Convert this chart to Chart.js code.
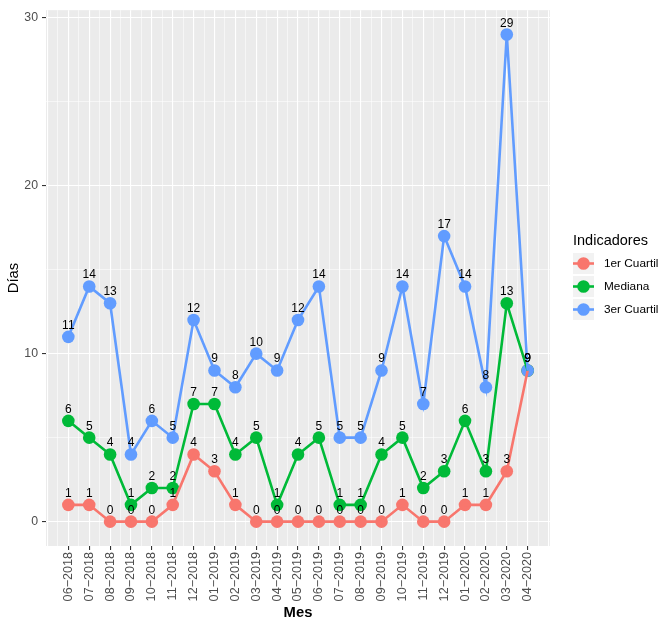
<!DOCTYPE html>
<html>
<head>
<meta charset="utf-8">
<script src="https://cdn.jsdelivr.net/npm/chart.js@4.4.1/dist/chart.umd.min.js"></script>
<style>
  html, body { margin: 0; padding: 0; background: #fff; }
</style>
</head>
<body>
<canvas id="grafico" width="659" height="624"></canvas>
<script>
const meses = ["06−2018", "07−2018", "08−2018", "09−2018", "10−2018", "11−2018",
  "12−2018", "01−2019", "02−2019", "03−2019", "04−2019", "05−2019", "06−2019",
  "07−2019", "08−2019", "09−2019", "10−2019", "11−2019", "12−2019", "01−2020",
  "02−2020", "03−2020", "04−2020"];
const primerCuartil = [1, 1, 0, 0, 0, 1, 4, 3, 1, 0, 0, 0, 0, 0, 0, 0, 1, 0, 0, 1, 1, 3, 9];
const mediana = [6, 5, 4, 1, 2, 2, 7, 7, 4, 5, 1, 4, 5, 1, 1, 4, 5, 2, 3, 6, 3, 13, 9];
const tercerCuartil = [11, 14, 13, 4, 6, 5, 12, 9, 8, 10, 9, 12, 14, 5, 5, 9, 14, 7, 17, 14, 8, 29, 9];
const nombres = ["1er Cuartil", "Mediana", "3er Cuartil"];
const colores = ["#F8766D", "#00BA38", "#619CFF"];
const yTicks = [0, 10, 20, 30];

const FUENTE = "'Liberation Sans', Arial, sans-serif";
Chart.defaults.font.family = FUENTE;

const valores = [primerCuartil, mediana, tercerCuartil];
const puntos = (vals) => vals.map((v, i) => ({ x: i, y: v }));

// puntos primero, despues las lineas (como geom_point + geom_line)
const datasets = [];
valores.forEach((vals, k) => {
  datasets.push({
    label: nombres[k], data: puntos(vals), showLine: false,
    pointRadius: 6.3, pointHoverRadius: 6.3, pointBorderWidth: 0,
    pointBackgroundColor: colores[k], borderColor: colores[k],
    order: 6 - k, esPunto: true
  });
});
valores.forEach((vals, k) => {
  datasets.push({
    label: nombres[k], data: puntos(vals), showLine: true,
    pointRadius: 0, borderWidth: 2.6, borderColor: colores[k],
    tension: 0, order: 3 - k
  });
});

const fondoPanel = {
  id: "fondoPanel",
  beforeDraw(chart) {
    const { ctx, chartArea: a } = chart;
    ctx.save();
    ctx.fillStyle = "#EBEBEB";
    ctx.fillRect(a.left, a.top, a.right - a.left, a.bottom - a.top);
    ctx.restore();
  }
};

const etiquetas = {
  id: "etiquetas",
  afterDatasetsDraw(chart) {
    const ctx = chart.ctx;
    ctx.save();
    ctx.fillStyle = "#000";
    ctx.font = "12px " + FUENTE;
    ctx.textAlign = "center";
    ctx.textBaseline = "alphabetic";
    chart.data.datasets.forEach((ds, i) => {
      if (!ds.esPunto) return;
      chart.getDatasetMeta(i).data.forEach((p, j) => {
        ctx.fillText(String(ds.data[j].y), p.x, p.y - 8);
      });
    });
    ctx.restore();
  }
};

const leyenda = {
  id: "leyenda",
  afterDraw(chart) {
    const ctx = chart.ctx;
    const x0 = chart.chartArea.right + 23;
    ctx.save();
    ctx.fillStyle = "#000";
    ctx.font = "14.5px " + FUENTE;
    ctx.textBaseline = "alphabetic";
    ctx.textAlign = "left";
    ctx.fillText("Indicadores", x0, 245);
    nombres.forEach((n, k) => {
      const y = 253 + k * 23;
      ctx.fillStyle = "#F2F2F2";
      ctx.fillRect(x0, y, 21, 21);
      ctx.strokeStyle = colores[k];
      ctx.lineWidth = 2.6;
      ctx.beginPath();
      ctx.moveTo(x0, y + 10.5);
      ctx.lineTo(x0 + 21, y + 10.5);
      ctx.stroke();
      ctx.fillStyle = colores[k];
      ctx.beginPath();
      ctx.arc(x0 + 10.5, y + 10.5, 6.3, 0, Math.PI * 2);
      ctx.fill();
      ctx.fillStyle = "#000";
      ctx.font = "11.8px " + FUENTE;
      ctx.textBaseline = "middle";
      ctx.fillText(n, x0 + 31, y + 10.5);
    });
    ctx.restore();
  }
};

const esMes = (v) => Number.isInteger(v) && v >= 0 && v < meses.length;

new Chart(document.getElementById("grafico"), {
  type: "scatter",
  data: { datasets },
  options: {
    responsive: false,
    animation: false,
    devicePixelRatio: 1,
    layout: { padding: { top: 8.4, right: 109, bottom: 0, left: 0 } },
    plugins: { legend: { display: false }, tooltip: { enabled: false } },
    scales: {
      x: {
        type: "linear",
        min: -1.07,
        max: 23.07,
        afterBuildTicks: (axis) => {
          const t = [];
          for (let v = -1; v <= 23; v += 0.5) t.push({ value: v });
          axis.ticks = t;
        },
        afterFit: (axis) => { axis.height = 78; },
        border: { display: false },
        grid: {
          color: "#FFFFFF",
          lineWidth: (c) => Number.isInteger(c.tick.value) ? 1.1 : 0.55,
          tickLength: 4,
          tickWidth: 1.1,
          tickColor: (c) => esMes(c.tick.value) ? "#333333" : "rgba(0,0,0,0)"
        },
        ticks: {
          autoSkip: false,
          minRotation: 90,
          maxRotation: 90,
          padding: 2,
          color: "#4D4D4D",
          font: { size: 12.6, lineHeight: 1 },
          callback: (v) => esMes(v) ? meses[v] : ""
        },
        title: {
          display: true, text: "Mes", color: "#000",
          font: { size: 14.8, weight: "bold" },
          padding: { top: 0, bottom: 2.5 }
        }
      },
      y: {
        type: "linear",
        min: -1.45,
        max: 30.45,
        afterBuildTicks: (axis) => {
          const t = [];
          for (let v = 0; v <= 30; v += 5) t.push({ value: v });
          axis.ticks = t;
        },
        afterFit: (axis) => { axis.width = 46; },
        border: { display: false },
        grid: {
          color: "#FFFFFF",
          lineWidth: (c) => yTicks.includes(c.tick.value) ? 1.1 : 0.55,
          tickLength: 4,
          tickWidth: 1.1,
          tickColor: (c) => yTicks.includes(c.tick.value) ? "#333333" : "rgba(0,0,0,0)"
        },
        ticks: {
          padding: 4,
          color: "#4D4D4D",
          font: { size: 12.3, lineHeight: 1 },
          callback: (v) => yTicks.includes(v) ? String(v) : ""
        },
        title: {
          display: true, text: "Días", color: "#000",
          font: { size: 14.8 },
          padding: { top: 5, bottom: 0 }
        }
      }
    }
  },
  plugins: [fondoPanel, etiquetas, leyenda]
});
</script>
</body>
</html>
